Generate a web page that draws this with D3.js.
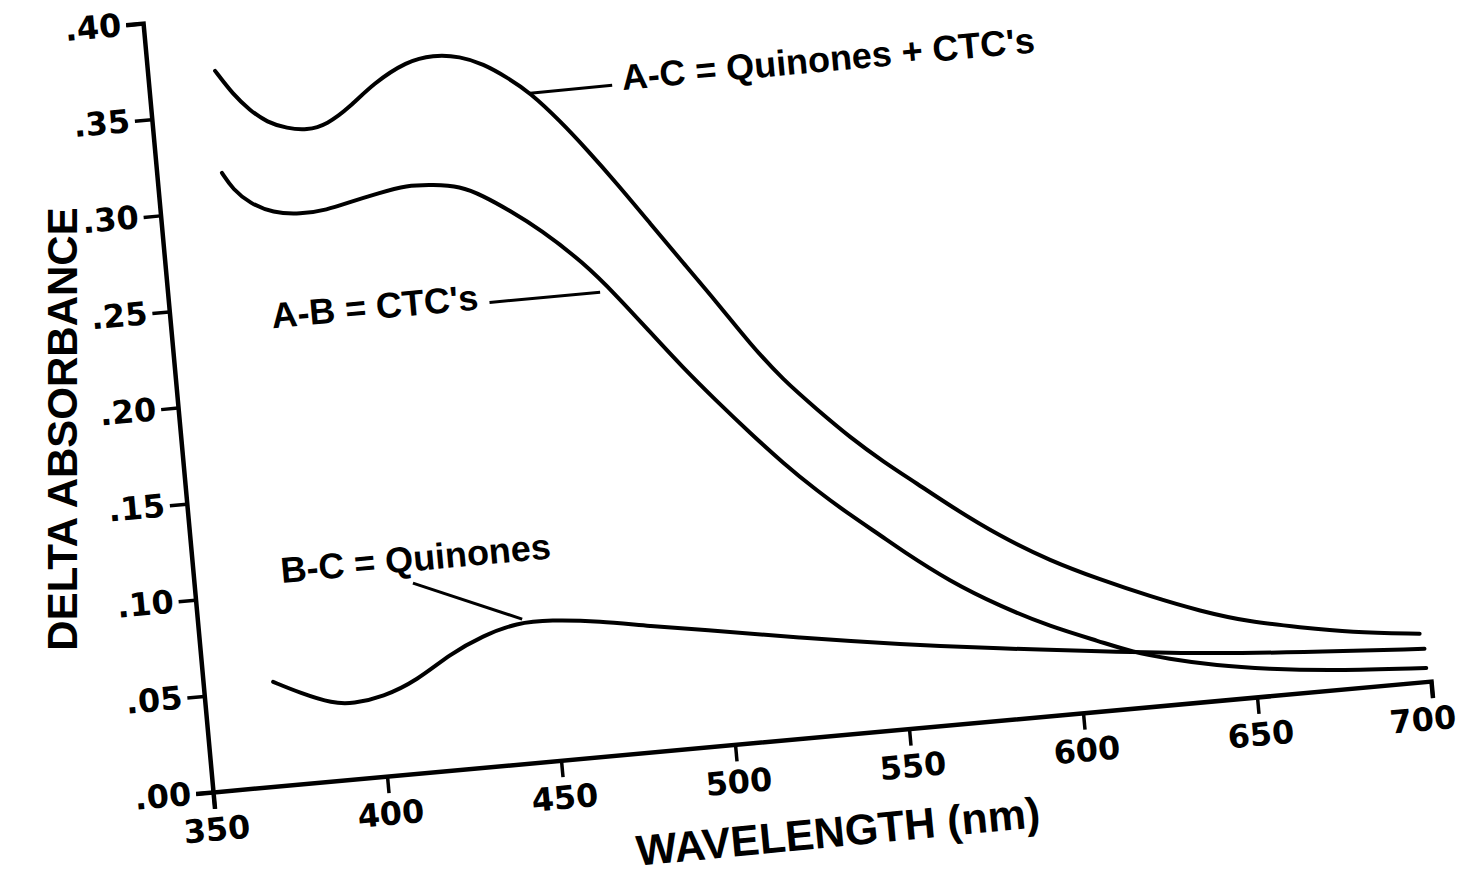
<!DOCTYPE html>
<html>
<head>
<meta charset="utf-8">
<script src="https://cdn.jsdelivr.net/npm/d3@7/dist/d3.min.js"></script>
<style>
body { margin: 0; background: #fff; }
</style>
</head>
<body>
<svg id="svg"></svg>
<script>
var width = 1466, height = 876;

// A-C = Quinones + CTC's
var acWave = [369.3, 373.8, 378.2, 382.8, 388.3, 393.9, 399.8, 406.8, 414.0, 424.2, 431.8, 439.5, 445.9, 452.3, 458.5, 466.3, 473.2, 480.9, 489.3, 497.7, 506.3, 514.7, 523.1, 532.1, 540.8, 549.6, 558.7, 567.5, 580.9, 594.6, 608.3, 622.1, 636.0, 650.0, 664.0, 678.2, 698.0];
var acAbs  = [.372, .359, .350, .343, .339, .337, .339, .347, .358, .368, .370, .368, .363, .355, .346, .330, .314, .295, .273, .251, .229, .206, .186, .169, .153, .139, .126, .113, .095, .080, .068, .057, .047, .039, .034, .029, .025];

// A-B = CTC's
var abWave = [368.6, 371.3, 375.8, 382.1, 389.8, 397.6, 404.4, 412.3, 421.0, 428.5, 436.1, 442.4, 449.7, 457.8, 469.2, 478.0, 486.4, 494.9, 503.7, 512.4, 521.0, 530.0, 538.8, 547.6, 552.1, 565.5, 579.1, 592.9, 606.7, 615.8, 625.4, 639.4, 653.6, 672.4, 699.0];
var abAbs  = [.319, .310, .302, .296, .294, .295, .298, .301, .304, .303, .301, .295, .286, .275, .256, .237, .217, .197, .178, .160, .143, .127, .113, .100, .093, .074, .059, .046, .036, .029, .024, .018, .014, .010, .007];

// B-C = Quinones
var bcWave = [370.0, 377.4, 386.5, 392.2, 400.9, 411.1, 421.1, 431.0, 441.0, 450.5, 464.7, 478.9, 493.0, 521.3, 549.6, 578.0, 606.4, 634.9, 663.4, 699.0];
var bcAbs  = [.054, .047, .040, .039, .041, .048, .060, .068, .073, .073, .070, .065, .061, .052, .044, .037, .031, .025, .021, .017];

var xTicks = [350, 400, 450, 500, 550, 600, 650, 700];
var yTicks = [0, .05, .10, .15, .20, .25, .30, .35, .40];
var yTickLabels = [".00", ".05", ".10", ".15", ".20", ".25", ".30", ".35", ".40"];

var seriesNames = ["A-C = Quinones + CTC's", "A-B = CTC's", "B-C = Quinones"];

var svg = d3.select("#svg")
	.attr("width", width)
	.attr("height", height)
	.style("display", "block")
	.style("background", "#fff");

// the scanned page is tilted, so the whole plot frame is rotated
var frame = svg.append("g")
	.attr("transform", "translate(213,792) rotate(-5.2)");

var x = d3.scaleLinear()
	.domain([350, 700])
	.range([0, 1223]);

var y = d3.scaleLinear()
	.domain([0, 0.4])
	.range([0, -772]);

frame.append("g")
	.attr("class", "axis")
	.call(d3.axisBottom(x).tickValues(xTicks).tickSize(17).tickPadding(9).tickFormat(d3.format("d")));

frame.append("g")
	.attr("class", "axis")
	.call(d3.axisLeft(y).tickValues(yTicks).tickSize(17).tickPadding(5)
		.tickFormat(function(d, i) { return yTickLabels[i]; }));

frame.selectAll(".axis .domain")
	.attr("stroke", "#000")
	.attr("stroke-width", 4.5)
	.attr("stroke-linejoin", "miter");
frame.selectAll(".axis .tick line")
	.attr("stroke", "#000")
	.attr("stroke-width", 3.5);
frame.selectAll(".axis text")
	.attr("fill", "#000")
	.attr("font-family", "DejaVu Sans")
	.attr("font-weight", "bold")
	.attr("font-size", 32);

// last label sits a little left of its tick in the original
frame.selectAll(".axis .tick text")
	.filter(function(d) { return d === 700; })
	.attr("dx", -12);

var line = d3.line()
	.x(function(d) { return x(d[0]); })
	.y(function(d) { return y(d[1]); })
	.curve(d3.curveBasis);

var series = [
	d3.zip(acWave, acAbs),
	d3.zip(abWave, abAbs),
	d3.zip(bcWave, bcAbs)
];

frame.append("g")
	.selectAll("path")
	.data(series)
	.enter()
	.append("path")
	.attr("d", line)
	.attr("fill", "none")
	.attr("stroke", "#000")
	.attr("stroke-width", 4)
	.attr("stroke-linecap", "round")
	.attr("stroke-linejoin", "round");

// labels with their leader lines
var notes = [
	{text: seriesNames[0], at: [485, .343], from: [458.5, .3457], to: [482.1, .346]},
	{text: seriesNames[1], at: [379, .2365], from: [473.3, .2397], to: [441.5, .2396]},
	{text: seriesNames[2], at: [375, .1046], from: [412.4, .0984], to: [442.6, .0747]}
];

frame.append("g")
	.selectAll("line")
	.data(notes)
	.enter()
	.append("line")
	.attr("x1", function(d) { return x(d.from[0]); })
	.attr("y1", function(d) { return y(d.from[1]); })
	.attr("x2", function(d) { return x(d.to[0]); })
	.attr("y2", function(d) { return y(d.to[1]); })
	.attr("stroke", "#000")
	.attr("stroke-width", 3);

frame.append("g")
	.selectAll("text")
	.data(notes)
	.enter()
	.append("text")
	.attr("x", function(d) { return x(d.at[0]); })
	.attr("y", function(d) { return y(d.at[1]); })
	.attr("font-family", "Liberation Sans")
	.attr("font-weight", "bold")
	.attr("font-size", 36)
	.text(function(d) { return d.text; });

svg.append("text")
	.attr("transform", "translate(77,429) rotate(-90)")
	.attr("text-anchor", "middle")
	.attr("font-family", "Liberation Sans")
	.attr("font-weight", "bold")
	.attr("font-size", 42)
	.text("DELTA ABSORBANCE");

svg.append("text")
	.attr("transform", "translate(838,831) rotate(-5.5)")
	.attr("text-anchor", "middle")
	.attr("dy", "0.36em")
	.attr("font-family", "Liberation Sans")
	.attr("font-weight", "bold")
	.attr("font-size", 43)
	.text("WAVELENGTH (nm)");
</script>
</body>
</html>
